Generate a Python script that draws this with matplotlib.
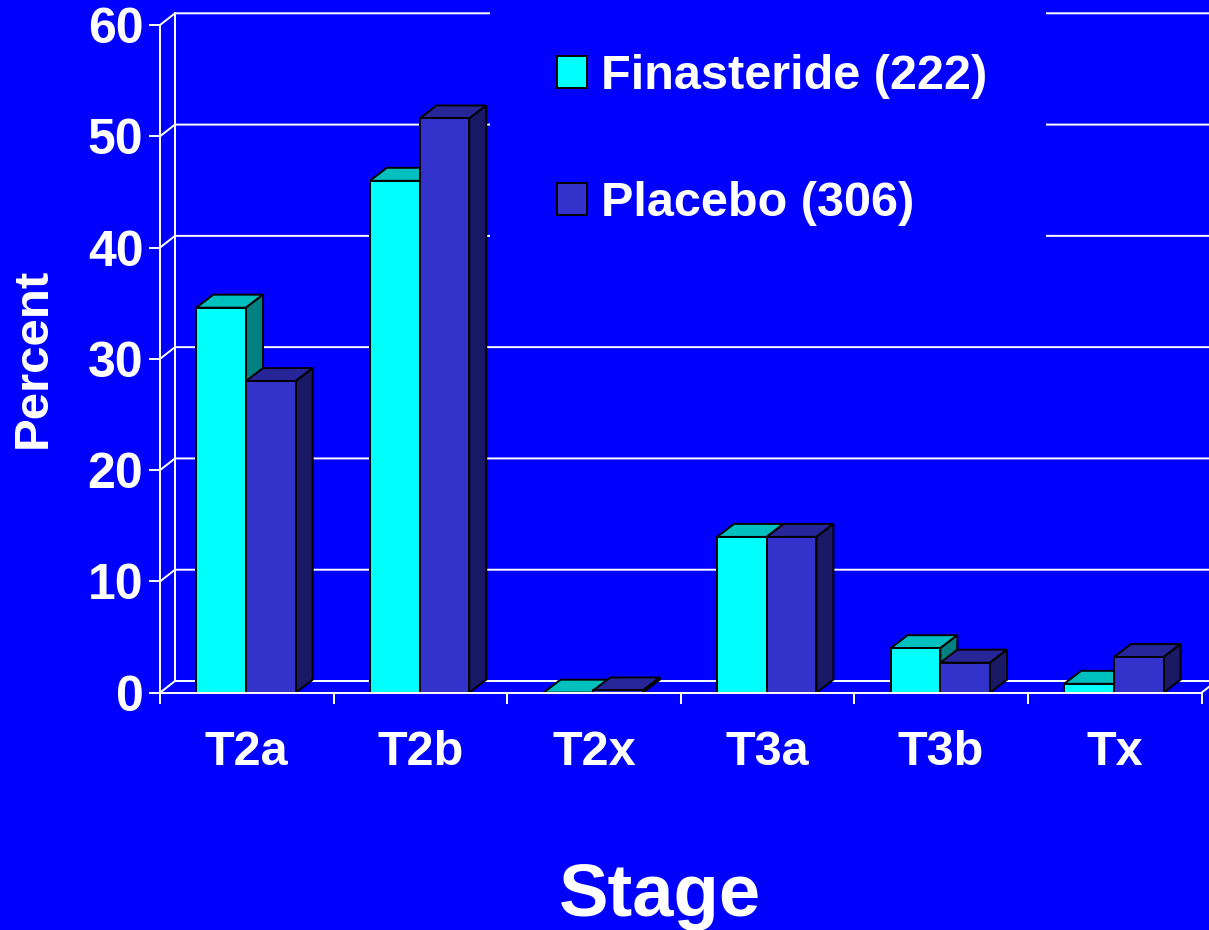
import matplotlib
matplotlib.use("Agg")
import matplotlib.pyplot as plt
from matplotlib.patches import Patch, Rectangle

stages = ["T2a", "T2b", "T2x", "T3a", "T3b", "Tx"]
finasteride = [34.6, 46.0, 0.0, 14.0, 4.0, 0.8]
placebo = [28.0, 51.6, 0.2, 14.0, 2.7, 3.2]
y_ticks = [0, 10, 20, 30, 40, 50, 60]
labels = ["Finasteride (222)", "Placebo (306)"]

BLUE = "#0000FF"
fin_colors = ("#00FFFF", "#00BFBF", "#008080")
pla_colors = ("#3333CC", "#262699", "#191966")

W, H = 1209, 930
plt.rcParams["font.family"] = ["Liberation Sans", "DejaVu Sans"]
plt.rcParams["font.weight"] = "bold"

fig = plt.figure(figsize=(W / 100, H / 100), dpi=100, facecolor=BLUE)
ax = fig.add_axes([160 / W, 1 - 692.7 / H, (1201.5 - 160) / W, (692.7 - 25) / H])
ax.set_facecolor("none")
ax.set_xlim(0, 6)
ax.set_ylim(0, 60)

# pixels to data units for the fake 3d depth
xpx = 6 / (1201.5 - 160)
ypx = 60 / (692.7 - 25)
wall_dx, wall_dy = 15 * xpx, 11.7 * ypx
bar_dx, bar_dy = 17 * xpx, 13 * ypx
bar_w = 49.7 * xpx


def draw_bar(x, v, colors, z):
    ax.fill([x, x + bar_dx, x + bar_w + bar_dx, x + bar_w],
            [v, v + bar_dy, v + bar_dy, v],
            fc=colors[1], ec="black", lw=1.4, zorder=z, clip_on=False)
    ax.fill([x + bar_w, x + bar_w + bar_dx, x + bar_w + bar_dx, x + bar_w],
            [0, bar_dy, v + bar_dy, v],
            fc=colors[2], ec="black", lw=1.4, zorder=z, clip_on=False)
    ax.bar(x, v, width=bar_w, align="edge", color=colors[0], ec="black", lw=1.4,
           zorder=z + 0.1, clip_on=False)


# back wall and grid
ax.plot([wall_dx, wall_dx], [wall_dy, 60 + wall_dy], color="white", lw=1.4, zorder=1, clip_on=False)
for v in y_ticks:
    ax.plot([0, wall_dx, 6.2], [v, v + wall_dy, v + wall_dy], color="white", lw=1.4, zorder=1, clip_on=False)
ax.plot([6, 6 + wall_dx], [0, wall_dy], color="white", lw=1.4, zorder=1, clip_on=False)

# the legend box hides the upper grid lines
ax.add_artist(Rectangle((490 / W, 1 - 239 / H), (1046 - 490) / W, 239 / H,
                        transform=fig.transFigure, fc=BLUE, ec="none", zorder=2, clip_on=False))

for i in range(len(stages)):
    left = i + 0.5 - bar_w - 0.8 * xpx
    draw_bar(left, finasteride[i], fin_colors, 5 + i)
    draw_bar(left + bar_w, placebo[i], pla_colors, 5.5 + i)

for s in ["top", "right"]:
    ax.spines[s].set_visible(False)
for s in ["left", "bottom"]:
    ax.spines[s].set_color("white")
    ax.spines[s].set_linewidth(1.4)
    ax.spines[s].set_zorder(50)

ax.set_yticks(y_ticks)
ax.set_xticks(range(7))
ax.set_xticklabels([])
ax.set_xticks([i + 0.5 for i in range(6)], stages, minor=True)
ax.tick_params(axis="x", which="major", length=8, width=1.4, color="white")
ax.tick_params(axis="x", which="minor", length=0, pad=27, labelsize=35, labelcolor="white")
ax.tick_params(axis="y", length=8, width=1.4, color="white", pad=4, labelsize=36, labelcolor="white")

fig.text(33 / W, 1 - 358 / H, "Percent", color="white", fontsize=35.5, rotation=90, ha="center", va="center")
fig.text(660 / W, 1 - 896 / H, "Stage", color="white", fontsize=53.5, ha="center", va="center")

handles = [Patch(fc=fin_colors[0], ec="black", lw=1.4), Patch(fc=pla_colors[0], ec="black", lw=1.4)]
fig.legend(handles, labels, loc="upper left", bbox_to_anchor=(557 / W, 1 - 54 / H), frameon=False,
           fontsize=35, labelcolor="white", handlelength=0.617, handleheight=0.617,
           handletextpad=0.29, labelspacing=1.69, borderpad=0, borderaxespad=0)

plt.savefig("out.png", dpi=100, facecolor=BLUE)
